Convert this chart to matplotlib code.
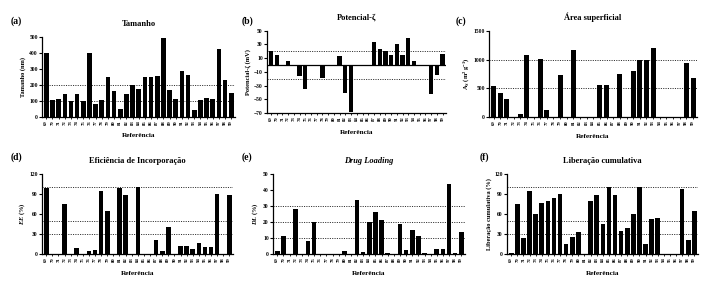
"""
Seis painéis de barras (a)-(f) por referência bibliográfica.
"""

import matplotlib
matplotlib.use('Agg')
import matplotlib.pyplot as plt

plt.rcParams['font.family'] = ['Liberation Serif', 'DejaVu Serif']
plt.rcParams['font.weight'] = 'bold'
plt.rcParams['mathtext.fontset'] = 'custom'
plt.rcParams['mathtext.rm'] = 'Liberation Serif:bold'
plt.rcParams['mathtext.it'] = 'Liberation Serif:bold:italic'

# ---------------------------------------------------------------------------
# dados
# ---------------------------------------------------------------------------

referencias = ['69', '70', '71', '72', '73', '74', '75', '76', '77', '78',
               '79', '80', '81', '82', '83', '84', '85', '86', '87', '88',
               '89', '90', '91', '92', '93', '94', '95', '96', '97', '98', '99']

tamanho = [400, 104, 112, 140, 100, 140, 98, 400, 77, 104, 248, 162, 48, 142,
           198, 171, 248, 248, 252, 490, 167, 108, 283, 262, 44, 104, 117,
           110, 421, 229, 148]

potencial = [21, 14, 0, 5.5, 0, -16, -35, 0, 0, -19, 0, -2, 13, -41, -69, 0,
             0, 0, 33, 24, 20.5, 15, 30, 15, 39, 6, 0, 0, -42, -14, 16]

area = [548, 427, 312, 0, 50, 1079, 0, 1015, 127, 0, 727, 0, 1160, 0, 0, 0,
        565, 565, 0, 744, 0, 796, 987, 987, 1200, 0, 0, 0, 0, 935, 687]

eficiencia = [98.5, 0, 0, 74.5, 0, 9.5, 0, 5, 6.5, 95, 65, 0, 99, 88, 0, 100,
              0, 0, 20.5, 5, 40, 0, 11.5, 11.5, 8, 16.5, 10, 10, 89.5, 0, 88.5]

drug_loading = [2, 11, 0, 28, 0, 8, 20, 0, 0, 0, 0, 2, 0, 34, 1.5, 20, 26, 21,
                0.5, 0, 19, 2.7, 15, 11.5, 0.8, 0, 3, 3, 44, 0.8, 13.5]

liberacao = [1.5, 74.5, 24, 94.5, 59.5, 76.5, 79.5, 84.5, 90, 14.5, 26, 33.5,
             0, 79.5, 89, 44.5, 100, 89, 34.5, 39.5, 59.5, 100, 15.5, 52.5,
             54.5, 0, 0, 0, 97.5, 21.5, 65]

W, H = 716, 283


def px_axes(fig, left, right, top, bottom):
    """Cria eixos a partir de coordenadas em pixels."""
    return fig.add_axes([left / W, (H - bottom) / H,
                         (right - left) / W, (bottom - top) / H])


def painel(ax, valores, titulo, ylabel, ylim, yticks, linhas, letra,
           letra_xy, titulo_italico=False):
    x = list(range(len(valores)))
    ax.bar(x, valores, width=0.75, color='black', zorder=3)
    for v in linhas:
        ax.axhline(v, color='#222222', lw=0.65, ls=(0, (1.2, 1.4)), zorder=1)
    ax.set_xlim(-0.7, len(valores) - 0.4)
    ax.set_ylim(*ylim)
    ax.set_yticks(yticks)
    ax.set_xticks(x)
    ax.set_xticklabels(referencias, rotation=90, fontsize=3.4)
    ax.tick_params(axis='y', labelsize=4, length=2, width=0.8, pad=1)
    ax.tick_params(axis='x', length=1.5, width=0.6, pad=1)
    for s in ('top', 'right'):
        ax.spines[s].set_visible(False)
    for s in ('left', 'bottom'):
        ax.spines[s].set_linewidth(0.9)
    ax.set_xlabel('Referência', fontsize=5.2, fontweight='bold', labelpad=6)
    ax.set_ylabel(ylabel, fontsize=4.6, fontweight='bold', labelpad=2)
    ax.set_title(titulo, fontsize=6, fontweight='bold', pad=8,
                 style='italic' if titulo_italico else 'normal')
    ax.figure.text(letra_xy[0] / W, 1 - letra_xy[1] / H, letra,
                   fontsize=7, fontweight='bold', ha='left', va='center')


fig = plt.figure(figsize=(W / 100, H / 100), dpi=100)

ax = px_axes(fig, 42, 235, 36.7, 116.7)
painel(ax, tamanho, 'Tamanho', 'Tamanho (nm)', (0, 500),
       [0, 100, 200, 300, 400, 500], [100, 200], '(a)', (11, 21))

ax = px_axes(fig, 267, 446, 30.7, 113)
painel(ax, potencial, 'Potencial-ζ', 'Potencial-ζ (mV)', (-70, 50),
       [-70, -50, -30, -10, 10, 30, 50], [20, -20], '(b)', (242, 21))
ax.axhline(0, color='black', lw=0.9, zorder=4)

ax = px_axes(fig, 489, 697, 31, 117)
painel(ax, area, 'Área superficial', r'A$_S$ (m$^2$ g$^{-1}$)', (0, 1500),
       [0, 500, 1000, 1500], [500, 1000], '(c)', (456, 21))

ax = px_axes(fig, 42, 233, 174, 254)
painel(ax, eficiencia, 'Eficiência de Incorporação', r'$EE$ (%)', (0, 120),
       [0, 30, 60, 90, 120], [30, 50, 100], '(d)', (11, 157))

ax = px_axes(fig, 273, 465, 174, 254)
painel(ax, drug_loading, 'Drug Loading', r'$DL$ (%)', (0, 50),
       [0, 10, 20, 30, 40, 50], [10, 20, 30], '(e)', (242, 157),
       titulo_italico=True)

ax = px_axes(fig, 507, 698, 174, 254)
painel(ax, liberacao, 'Liberação cumulativa', 'Liberação cumulativa (%)',
       (0, 120), [0, 30, 60, 90, 120], [30, 50, 100], '(f)', (480, 157))

fig.savefig('out.png', dpi=100, facecolor='white')
